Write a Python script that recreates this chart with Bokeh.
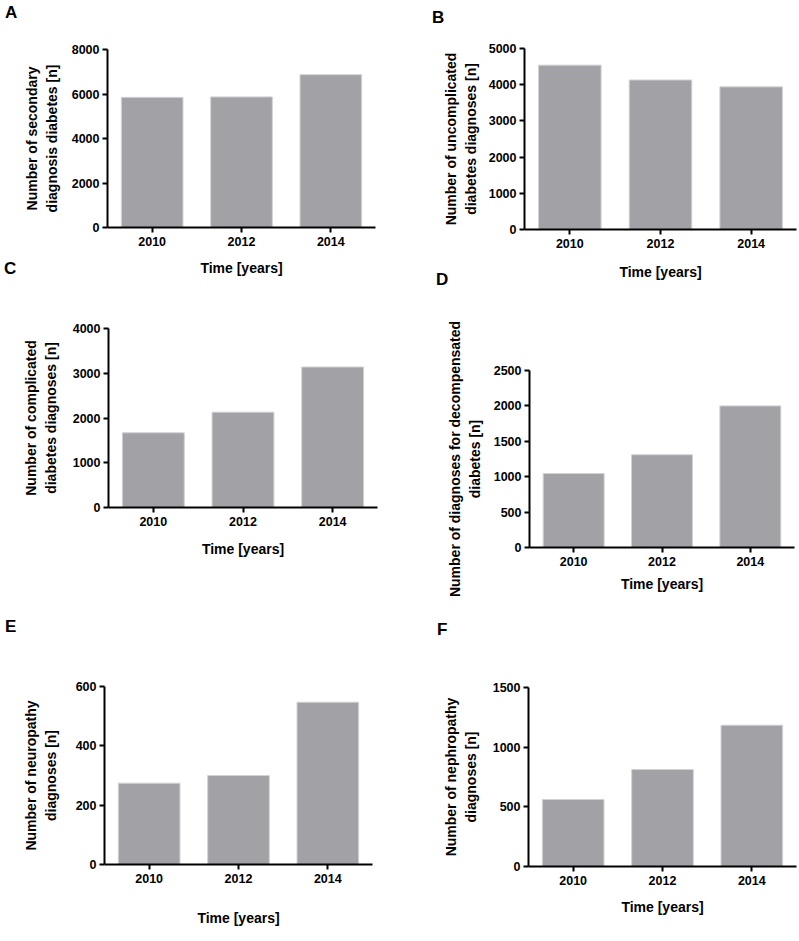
from bokeh.plotting import figure
from bokeh.models import FactorRange, Range1d, FixedTicker, Div
from bokeh.layouts import column, row
from bokeh.embed import file_html
from bokeh.resources import INLINE

years = ["2010", "2012", "2014"]

secondary_diagnosis = [5850, 5870, 6870]
uncomplicated = [4540, 4130, 3940]
complicated = [1670, 2130, 3140]
decompensated = [1045, 1310, 2000]
neuropathy = [274, 300, 547]
nephropathy = [561, 813, 1184]

ticks_a = [0, 2000, 4000, 6000, 8000]
ticks_b = [0, 1000, 2000, 3000, 4000, 5000]
ticks_c = [0, 1000, 2000, 3000, 4000]
ticks_d = [0, 500, 1000, 1500, 2000, 2500]
ticks_e = [0, 200, 400, 600]
ticks_f = [0, 500, 1000, 1500]

ylabel_a = "Number of secondary\ndiagnosis diabetes [n]"
ylabel_b = "Number of uncomplicated\ndiabetes diagnoses [n]"
ylabel_c = "Number of complicated\ndiabetes diagnoses [n]"
ylabel_d = "Number of diagnoses for decompensated\ndiabetes [n]"
ylabel_e = "Number of neuropathy\ndiagnoses [n]"
ylabel_f = "Number of nephropathy\ndiagnoses [n]"
xlabel = "Time [years]"

panel_letters = ["A", "B", "C", "D", "E", "F"]

FONT = "Liberation Sans"
BAR = "#a2a2a6"
EDGE = "#d2d2d6"


def panel(values, ticks, ylabel, geom, xstand, ystand):
    left, fw, right, top, fh, bottom = geom
    p = figure(x_range=FactorRange(*years, range_padding=0.0),
               y_range=Range1d(0, ticks[-1]),
               frame_width=fw, frame_height=fh,
               min_border_left=left, min_border_right=right,
               min_border_top=top, min_border_bottom=bottom,
               output_backend="svg", toolbar_location=None,
               background_fill_color="white", border_fill_color="white")
    p.frame_align = False
    p.outline_line_color = None
    p.xgrid.visible = False
    p.ygrid.visible = False
    p.vbar(x=years, top=values, width=0.69, fill_color=BAR,
           line_color=EDGE, line_width=1)
    for ax in (p.xaxis[0], p.yaxis[0]):
        ax.axis_line_width = 2
        ax.axis_line_color = "black"
        ax.major_tick_line_width = 2
        ax.major_tick_line_color = "black"
        ax.major_tick_out = 5
        ax.major_tick_in = 0
        ax.minor_tick_out = 0
        ax.minor_tick_in = 0
        ax.major_label_text_font = FONT
        ax.major_label_text_font_style = "bold"
        ax.major_label_text_font_size = "12.5px"
        ax.major_label_text_color = "black"
        ax.axis_label_text_font = FONT
        ax.axis_label_text_font_style = "bold"
        ax.axis_label_text_font_size = "14px"
        ax.axis_label_text_color = "black"
    p.yaxis[0].ticker = FixedTicker(ticks=ticks)
    p.yaxis[0].major_label_standoff = 3
    p.xaxis[0].major_label_standoff = 4
    p.xaxis[0].axis_label = xlabel
    p.yaxis[0].axis_label = ylabel
    p.xaxis[0].axis_label_standoff = xstand
    p.yaxis[0].axis_label_standoff = ystand
    return p


pa = panel(secondary_diagnosis, ticks_a, ylabel_a, (107, 268, 25, 49, 178, 63), 11, 9)
pb = panel(uncomplicated, ticks_b, ylabel_b, (124, 272, 3, 48, 181, 61), 13, 7)
pc = panel(complicated, ticks_c, ylabel_c, (108, 269, 23, 38, 179, 103), 12, 11)
pd = panel(decompensated, ticks_d, ylabel_d, (129, 265, 5, 80, 177, 63), 7, 8)
pe = panel(neuropathy, ticks_e, ylabel_e, (104, 268, 28, 76, 178, 76), 24, 14)
pf = panel(nephropathy, ticks_f, ylabel_f, (128, 268, 3, 77, 179, 74), 11, 11)

# page positions (left, top) of the panel letters
letter_pos = [(5, 4), (432, 9), (4, 260), (436, 271), (5, 618), (437, 621)]
spans = "".join(
    '<span style="position:absolute;left:%dpx;top:%dpx;font-family:\'%s\';'
    'font-weight:bold;font-size:17px;line-height:17px;color:black;">%s</span>'
    % (x, y, FONT, t) for t, (x, y) in zip(panel_letters, letter_pos))
letters_div = Div(text='<div style="position:relative;width:799px;height:940px;">'
                  + spans + '</div>',
                  width=799, height=940, margin=(-940, 0, 0, 0),
                  styles={"pointer-events": "none"})

layout = column(row(pa, pb), row(pc, pd), row(pe, pf), letters_div)
open("out.html", "w").write(file_html(layout, INLINE))
